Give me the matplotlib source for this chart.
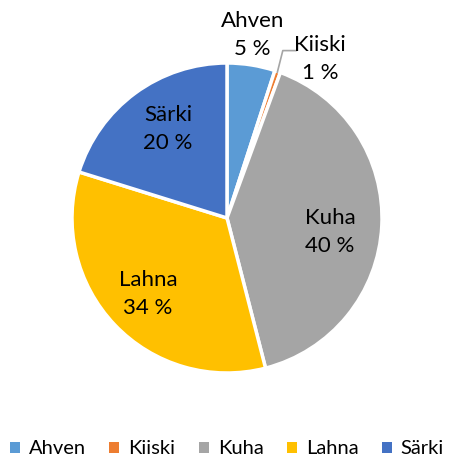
import numpy as np
import matplotlib
matplotlib.use("Agg")
import matplotlib.pyplot as plt
from matplotlib.patches import Patch

categories = ["Ahven", "Kiiski", "Kuha", "Lahna", "Särki"]
values = [5.0, 0.6, 40.4, 33.8, 20.2]
colors = ["#5B9BD5", "#ED7D31", "#A5A5A5", "#FFC000", "#4472C4"]

plt.rcParams['font.family'] = ['Lato', 'DejaVu Sans']

W, H = 454, 462
fig = plt.figure(figsize=(W / 100, H / 100), dpi=100)
cx, cy, r = 227, 218, 155
ax = fig.add_axes([(cx - r) / W, (H - cy - r) / H, 2 * r / W, 2 * r / H])

wedges, _ = ax.pie(values, colors=colors, startangle=90, counterclock=False,
                   radius=1.0, wedgeprops=dict(edgecolor='white', linewidth=2.5))
ax.set_xlim(-1, 1)
ax.set_ylim(-1, 1)
ax.set_aspect('equal')
ax.axis('off')

total = sum(values)
# label placement (radius, angle in degrees) in axes-data units
label_pos = [(1.19, 82), (1.19, 59.7), (0.67, -7.7), (0.71, 224), (0.69, 123.5)]
fs = 16
for i, (name, v) in enumerate(zip(categories, values)):
    rr, ang = label_pos[i]
    x, y = rr * np.cos(np.radians(ang)), rr * np.sin(np.radians(ang))
    ax.text(x, y, f"{name}\n{round(v / total * 100):.0f} %", ha='center', va='center',
            fontsize=fs, color='#000000', linespacing=1.5, clip_on=False)

# leader line for Kiiski
w = wedges[1]
mid = np.radians((w.theta1 + w.theta2) / 2)
p0 = (0.99 * np.cos(mid), 0.99 * np.sin(mid))
ax.plot([p0[0], 0.36, 0.45], [p0[1], 1.08, 1.08], color='#A5A5A5', lw=1.2,
        clip_on=False, solid_capstyle='butt')

handles = [Patch(facecolor=c, edgecolor='none') for c in colors]
fig.legend(handles, categories, loc='center', bbox_to_anchor=(0.5, 1 - 449 / H),
           ncol=5, frameon=False, fontsize=14.5, handlelength=0.5, handleheight=0.5,
           handletextpad=0.45, columnspacing=1.15, borderpad=0.1)

fig.savefig("out.png", dpi=100)
